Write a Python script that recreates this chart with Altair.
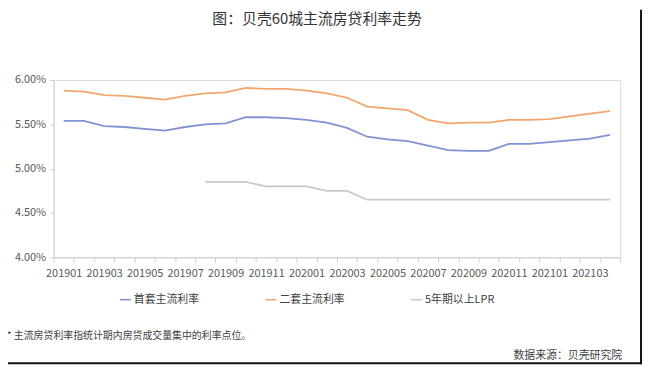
import altair as alt
import pandas as pd

months = ["201901", "201902", "201903", "201904", "201905", "201906", "201907",
          "201908", "201909", "201910", "201911", "201912", "202001", "202002",
          "202003", "202004", "202005", "202006", "202007", "202008", "202009",
          "202010", "202011", "202012", "202101", "202102", "202103", "202104"]

first_home = [5.54, 5.54, 5.48, 5.47, 5.45, 5.43, 5.47, 5.50, 5.51, 5.58, 5.58, 5.57,
              5.55, 5.52, 5.46, 5.36, 5.33, 5.31, 5.26, 5.21, 5.20, 5.20, 5.28, 5.28,
              5.30, 5.32, 5.34, 5.38]

second_home = [5.88, 5.87, 5.83, 5.82, 5.80, 5.78, 5.82, 5.85, 5.86, 5.91, 5.90, 5.90,
               5.88, 5.85, 5.80, 5.70, 5.68, 5.66, 5.55, 5.51, 5.52, 5.52, 5.55, 5.55,
               5.56, 5.59, 5.62, 5.65]

lpr = [None, None, None, None, None, None, None,
       4.85, 4.85, 4.85, 4.80, 4.80, 4.80, 4.75, 4.75, 4.65, 4.65, 4.65, 4.65,
       4.65, 4.65, 4.65, 4.65, 4.65, 4.65, 4.65, 4.65, 4.65]

series_names = ["首套主流利率", "二套主流利率", "5年期以上LPR"]
series_colors = ["#7F93D3", "#F2A66E", "#C9C9C9"]

title_text = "图：贝壳60城主流房贷利率走势"
note_text = "* 主流房贷利率指统计期内房贷成交量集中的利率点位。"
source_text = "数据来源：贝壳研究院"

rows = []
for name, vals in zip(series_names, [first_home, second_home, lpr]):
    for m, v in zip(months, vals):
        if v is not None:
            rows.append({"month": m, "series": name, "rate": v})
df = pd.DataFrame(rows)

one = pd.DataFrame({"k": [0]})

FONT = "Noto Sans CJK SC"

lines = alt.Chart(df).mark_line(strokeWidth=1.8).encode(
    x=alt.X("month:O", sort=months, scale=alt.Scale(domain=months, paddingInner=0, paddingOuter=0),
            axis=alt.Axis(title=None, labelAngle=0, tickBand="extent", grid=False,
                          labelExpr="toNumber(datum.value) % 2 == 1 ? datum.label : ''",
                          labelFontSize=11, labelColor="#595959", labelPadding=5,
                          domainColor="#D0D0D0", tickColor="#D0D0D0", tickSize=5)),
    y=alt.Y("rate:Q", scale=alt.Scale(domain=[4.0, 6.0], nice=False, zero=False),
            axis=alt.Axis(title=None, values=[4.0, 4.5, 5.0, 5.5, 6.0], grid=False,
                          labelExpr="format(datum.value, '.2f') + '%'",
                          labelFontSize=11, labelColor="#595959", labelPadding=4,
                          domainColor="#D0D0D0", tickColor="#D0D0D0", tickSize=4)),
    color=alt.Color("series:N", scale=alt.Scale(domain=series_names, range=series_colors),
                    legend=alt.Legend(title=None, orient="none", direction="horizontal",
                                      legendX=66, legendY=215, symbolType="stroke",
                                      symbolSize=120, symbolStrokeWidth=1.5,
                                      columnPadding=64, labelFontSize=11,
                                      labelColor="#404040", labelOffset=2)),
)

title = alt.Chart(one).mark_text(fontSize=15, color="#333333", align="center",
                                 baseline="middle", font=FONT).encode(
    x=alt.value(266), y=alt.value(-62), text=alt.value(title_text))

note = alt.Chart(one).mark_text(fontSize=10, color="#404040", align="left",
                                baseline="middle", font=FONT).encode(
    x=alt.value(-47), y=alt.value(258), text=alt.value(note_text))

source = alt.Chart(one).mark_text(fontSize=11, color="#404040", align="right",
                                  baseline="middle", font=FONT).encode(
    x=alt.value(574), y=alt.value(279), text=alt.value(source_text))

border_right = alt.Chart(one).mark_rule(color="#111111", strokeWidth=2).encode(
    x=alt.value(593), y=alt.value(-71), y2=alt.value(287))
border_bottom = alt.Chart(one).mark_rule(color="#111111", strokeWidth=2).encode(
    x=alt.value(-46), x2=alt.value(594), y=alt.value(286))

chart = alt.layer(lines, title, note, source, border_right, border_bottom).properties(
    width=572, height=179,
    autosize=alt.AutoSizeParams(type="none"),
    padding={"left": 46, "top": 71, "right": 24, "bottom": 108},
).configure_view(stroke=None).configure(font=FONT)

chart.save("out.html", embed_options={"renderer": "svg", "actions": False})
